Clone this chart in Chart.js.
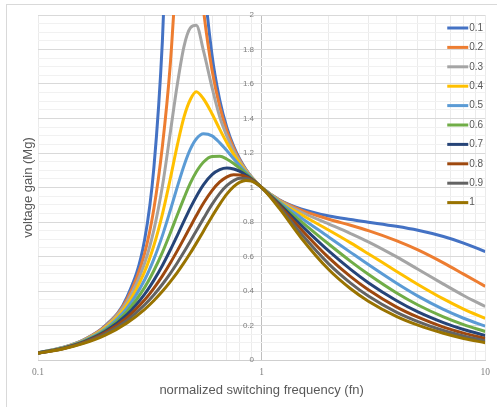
<!DOCTYPE html>
<html>
<head>
<meta charset="utf-8">
<script src="https://cdn.jsdelivr.net/npm/chart.js@4.4.1/dist/chart.umd.min.js"></script>
<style>
  html, body { margin: 0; padding: 0; background: #fff; }
</style>
</head>
<body>
<canvas id="gain" width="497" height="407"></canvas>
<script>
// normalized switching frequency (fn)
const freq = [0.1, 0.13, 0.16, 0.2, 0.25, 0.3, 0.33, 0.36, 0.39, 0.42, 0.45, 0.48, 0.51, 0.55, 0.6, 0.65, 0.7, 0.75, 0.8, 0.85, 0.9, 0.95, 1, 1.2, 1.5, 2, 2.5, 3, 4, 5, 6.5, 8, 10]

// voltage gain per Q
const q01 = [0.042, 0.074, 0.117, 0.199, 0.365, 0.70, 1.12, 1.85, 3.0, 3.88, 5.62, 4.35, 3.10, 2.26, 1.768, 1.506, 1.345, 1.238, 1.162, 1.106, 1.062, 1.028, 1, 0.929, 0.876, 0.835, 0.814, 0.799, 0.775, 0.752, 0.716, 0.678, 0.628]
const q02 = [0.042, 0.073, 0.116, 0.196, 0.351, 0.62, 0.88, 1.24, 1.705, 2.345, 2.819, 2.773, 2.443, 2.026, 1.681, 1.467, 1.326, 1.229, 1.157, 1.103, 1.061, 1.028, 1, 0.927, 0.869, 0.816, 0.781, 0.750, 0.692, 0.638, 0.563, 0.498, 0.427]
const q03 = [0.042, 0.073, 0.115, 0.192, 0.337, 0.562, 0.756, 1.007, 1.313, 1.60, 1.82, 1.925, 1.94, 1.79, 1.58, 1.408, 1.296, 1.213, 1.150, 1.100, 1.060, 1.027, 1, 0.924, 0.858, 0.788, 0.733, 0.685, 0.599, 0.526, 0.440, 0.374, 0.310]
const q04 = [0.042, 0.072, 0.113, 0.187, 0.319, 0.513, 0.665, 0.846, 1.048, 1.247, 1.410, 1.510, 1.555, 1.513, 1.428, 1.337, 1.258, 1.192, 1.139, 1.095, 1.058, 1.027, 1, 0.921, 0.843, 0.752, 0.679, 0.616, 0.515, 0.438, 0.354, 0.295, 0.241]
const q05 = [0.041, 0.071, 0.111, 0.180, 0.300, 0.465, 0.586, 0.721, 0.865, 1.005, 1.128, 1.222, 1.281, 1.311, 1.299, 1.259, 1.213, 1.167, 1.126, 1.089, 1.056, 1.026, 1, 0.916, 0.825, 0.712, 0.624, 0.553, 0.446, 0.370, 0.293, 0.242, 0.196]
const q06 = [0.041, 0.070, 0.108, 0.173, 0.281, 0.421, 0.519, 0.624, 0.734, 0.842, 0.940, 1.025, 1.090, 1.148, 1.180, 1.181, 1.164, 1.139, 1.110, 1.081, 1.053, 1.026, 1, 0.910, 0.804, 0.671, 0.572, 0.497, 0.390, 0.319, 0.250, 0.205, 0.165]
const q07 = [0.040, 0.069, 0.105, 0.166, 0.263, 0.382, 0.463, 0.548, 0.636, 0.723, 0.806, 0.882, 0.947, 1.017, 1.075, 1.104, 1.113, 1.107, 1.093, 1.073, 1.050, 1.025, 1, 0.904, 0.782, 0.631, 0.525, 0.448, 0.345, 0.279, 0.217, 0.177, 0.142]
const q08 = [0.040, 0.067, 0.102, 0.159, 0.246, 0.349, 0.417, 0.488, 0.561, 0.634, 0.705, 0.773, 0.836, 0.910, 0.982, 1.032, 1.062, 1.074, 1.073, 1.063, 1.046, 1.024, 1, 0.896, 0.758, 0.592, 0.483, 0.407, 0.308, 0.248, 0.191, 0.156, 0.125]
const q09 = [0.039, 0.066, 0.099, 0.151, 0.230, 0.320, 0.378, 0.439, 0.501, 0.564, 0.627, 0.689, 0.748, 0.821, 0.902, 0.966, 1.012, 1.040, 1.053, 1.052, 1.041, 1.023, 1, 0.888, 0.733, 0.556, 0.446, 0.371, 0.278, 0.223, 0.171, 0.139, 0.111]
const q10 = [0.039, 0.065, 0.096, 0.144, 0.215, 0.294, 0.345, 0.398, 0.453, 0.508, 0.564, 0.620, 0.676, 0.748, 0.832, 0.904, 0.963, 1.005, 1.031, 1.041, 1.037, 1.022, 1, 0.879, 0.709, 0.523, 0.413, 0.341, 0.253, 0.202, 0.155, 0.125, 0.100]

const seriesLabels = ['0.1', '0.2', '0.3', '0.4', '0.5', '0.6', '0.7', '0.8', '0.9', '1']
const seriesValues = [q01, q02, q03, q04, q05, q06, q07, q08, q09, q10]
const seriesColors = ['#4472C4', '#ED7D31', '#A5A5A5', '#FFC000', '#5B9BD5', '#70AD47', '#264478', '#9E480E', '#636363', '#997300']

// x gridlines (log decades + minors) and the ones that get a label
const xGridTicks = [0.1, 0.2, 0.3, 0.4, 0.5, 0.6, 0.7, 0.8, 0.9, 1, 2, 3, 4, 5, 6, 7, 8, 9, 10]
const xLabelTicks = [0.1, 1, 10]

const FONT = '"Liberation Sans", Arial, sans-serif'
const isMajorY = v => Math.round(v * 100) % 20 === 0

const frame = {
    id: 'frame',
    beforeDraw(chart) {
        const ctx = chart.ctx
        ctx.save()
        ctx.fillStyle = '#fff'
        ctx.fillRect(0, 0, chart.width, chart.height)
        ctx.strokeStyle = '#d9d9d9'
        ctx.lineWidth = 1
        ctx.strokeRect(6.5, 4.5, chart.width, chart.height)
        ctx.restore()
    }
}

// legend sits inside the plot, top right
const insideLegend = {
    id: 'insideLegend',
    afterDatasetsDraw(chart) {
        const ctx = chart.ctx
        const area = chart.chartArea
        const x0 = area.right - 38
        ctx.save()
        ctx.font = '10px ' + FONT
        ctx.textBaseline = 'middle'
        ctx.textAlign = 'left'
        chart.data.datasets.forEach((ds, i) => {
            const y = area.top + 13 + i * 19.4
            ctx.strokeStyle = ds.borderColor
            ctx.lineWidth = 3
            ctx.beginPath()
            ctx.moveTo(x0, y)
            ctx.lineTo(x0 + 21, y)
            ctx.stroke()
            ctx.fillStyle = '#595959'
            ctx.fillText(ds.label, x0 + 22, y)
        })
        ctx.restore()
    }
}

const datasets = seriesValues.map((vals, i) => ({
    label: seriesLabels[i],
    data: freq.map((f, j) => ({ x: f, y: vals[j] })),
    borderColor: seriesColors[i],
    backgroundColor: seriesColors[i],
    borderWidth: 3,
    pointRadius: 0,
    cubicInterpolationMode: 'monotone',
    clip: 0,
    yAxisID: 'y',
    order: seriesValues.length - i
}))

const chart = new Chart(document.getElementById('gain').getContext('2d'), {
    type: 'line',
    data: { datasets: datasets },
    plugins: [frame, insideLegend],
    options: {
        responsive: false,
        animation: false,
        events: [],
        layout: { padding: { left: 21, top: 15, right: 9, bottom: 9 } },
        plugins: { legend: { display: false }, tooltip: { enabled: false } },
        scales: {
            x: {
                type: 'logarithmic',
                min: 0.1,
                max: 10,
                afterBuildTicks: s => { s.ticks = xGridTicks.map(v => ({ value: v })) },
                afterFit: s => { s.height = 38 },
                ticks: {
                    autoSkip: false,
                    maxRotation: 0,
                    padding: 7,
                    color: '#7f7f7f',
                    font: { family: '"Liberation Serif", serif', size: 9.5 },
                    callback: v => xLabelTicks.includes(v) ? String(v) : ''
                },
                grid: {
                    drawTicks: false,
                    color: c => (c.tick && c.tick.value === 1) ? '#bfbfbf' : '#ebebeb'
                },
                border: { color: '#cfcfcf' },
                title: {
                    display: true,
                    text: 'normalized switching frequency (fn)',
                    color: '#595959',
                    font: { family: FONT, size: 13 },
                    padding: 0
                }
            },
            y: {
                position: { x: 0.925 },
                min: 0,
                max: 2,
                afterFit: s => { s.width = 0 },
                ticks: {
                    stepSize: 0.05,
                    maxTicksLimit: 41,
                    autoSkip: false,
                    color: '#7f7f7f',
                    font: { family: FONT, size: 8 },
                    callback: v => isMajorY(v) ? String(+v.toFixed(1)) : ''
                },
                grid: {
                    drawTicks: false,
                    color: c => isMajorY(c.tick.value) ? '#d9d9d9' : '#f1f1f1'
                },
                border: { display: false }
            },
            yTitle: {
                type: 'linear',
                position: 'left',
                afterFit: s => { s.width = 17 },
                ticks: { display: false },
                grid: { display: false },
                border: { display: false },
                title: {
                    display: true,
                    text: 'voltage gain (Mg)',
                    color: '#595959',
                    font: { family: FONT, size: 13 },
                    padding: 0
                }
            }
        }
    }
})
</script>
</body>
</html>
